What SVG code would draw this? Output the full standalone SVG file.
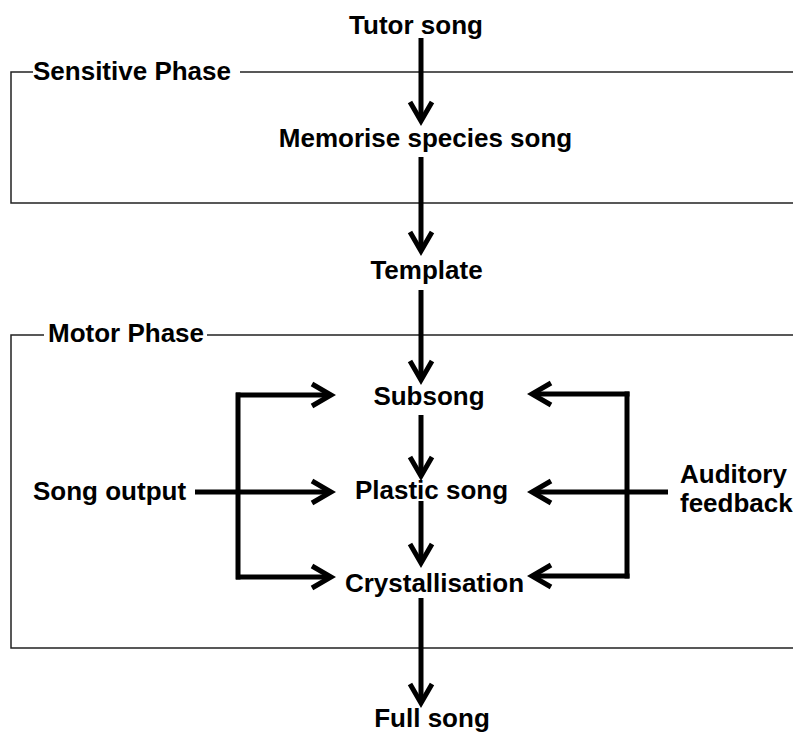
<svg xmlns="http://www.w3.org/2000/svg" width="793" height="736" viewBox="0 0 793 736">
<defs>
<style>
text{font-family:"Liberation Sans",Arial,sans-serif;font-weight:bold;font-size:26px;fill:#000}
.c{text-anchor:middle}
.frame{fill:none;stroke:#222;stroke-width:1.5}
.arr{fill:none;stroke:#000;stroke-width:5;marker-end:url(#ah)}
.ln{fill:none;stroke:#000;stroke-width:5}
</style>
<marker id="ah" markerUnits="userSpaceOnUse" markerWidth="40" markerHeight="40" refX="22" refY="14" orient="auto" overflow="visible">
<path d="M3 3 L22 14 L3 25" fill="none" stroke="#000" stroke-width="5"/>
</marker>
</defs>
<rect width="793" height="736" fill="#fff"/>
<g id="sensitive-phase">
<path class="frame" d="M33 72 H11 V203 H793 M240 72 H793"/>
<text x="33" y="80">Sensitive Phase</text>
</g>
<g id="motor-phase">
<path class="frame" d="M44 335 H11 V648 H793 M207 335 H793"/>
<text x="48" y="342">Motor Phase</text>
</g>
<g id="tutor-song"><text class="c" x="416" y="34">Tutor song</text></g>
<g id="memorise"><text class="c" x="425.5" y="147">Memorise species song</text></g>
<g id="template"><text class="c" x="426.5" y="279">Template</text></g>
<g id="subsong"><text class="c" x="429" y="405">Subsong</text></g>
<g id="plastic-song"><text class="c" x="431.5" y="499">Plastic song</text></g>
<g id="crystallisation"><text class="c" x="434.5" y="592">Crystallisation</text></g>
<g id="full-song"><text class="c" x="432" y="727">Full song</text></g>
<g id="song-output"><text x="33" y="500">Song output</text></g>
<g id="auditory-feedback"><text x="680" y="483">Auditory</text><text x="680" y="512">feedback</text></g>
<g id="connectors">
<path class="arr" d="M421 38 V121"/>
<path class="arr" d="M421 157 V251"/>
<path class="arr" d="M421 290 V380"/>
<path class="arr" d="M421 415 V476"/>
<path class="arr" d="M421 501 V563"/>
<path class="arr" d="M421 598 V703"/>
<path class="ln" d="M238 392.5 V579.5"/>
<path class="arr" d="M236 395 H331"/>
<path class="arr" d="M195 492 H331"/>
<path class="arr" d="M236 577 H331"/>
<path class="ln" d="M627 391.5 V578.5"/>
<path class="arr" d="M629.5 394 H532"/>
<path class="arr" d="M668 492 H532"/>
<path class="arr" d="M629.5 576 H532"/>
</g>
</svg>
